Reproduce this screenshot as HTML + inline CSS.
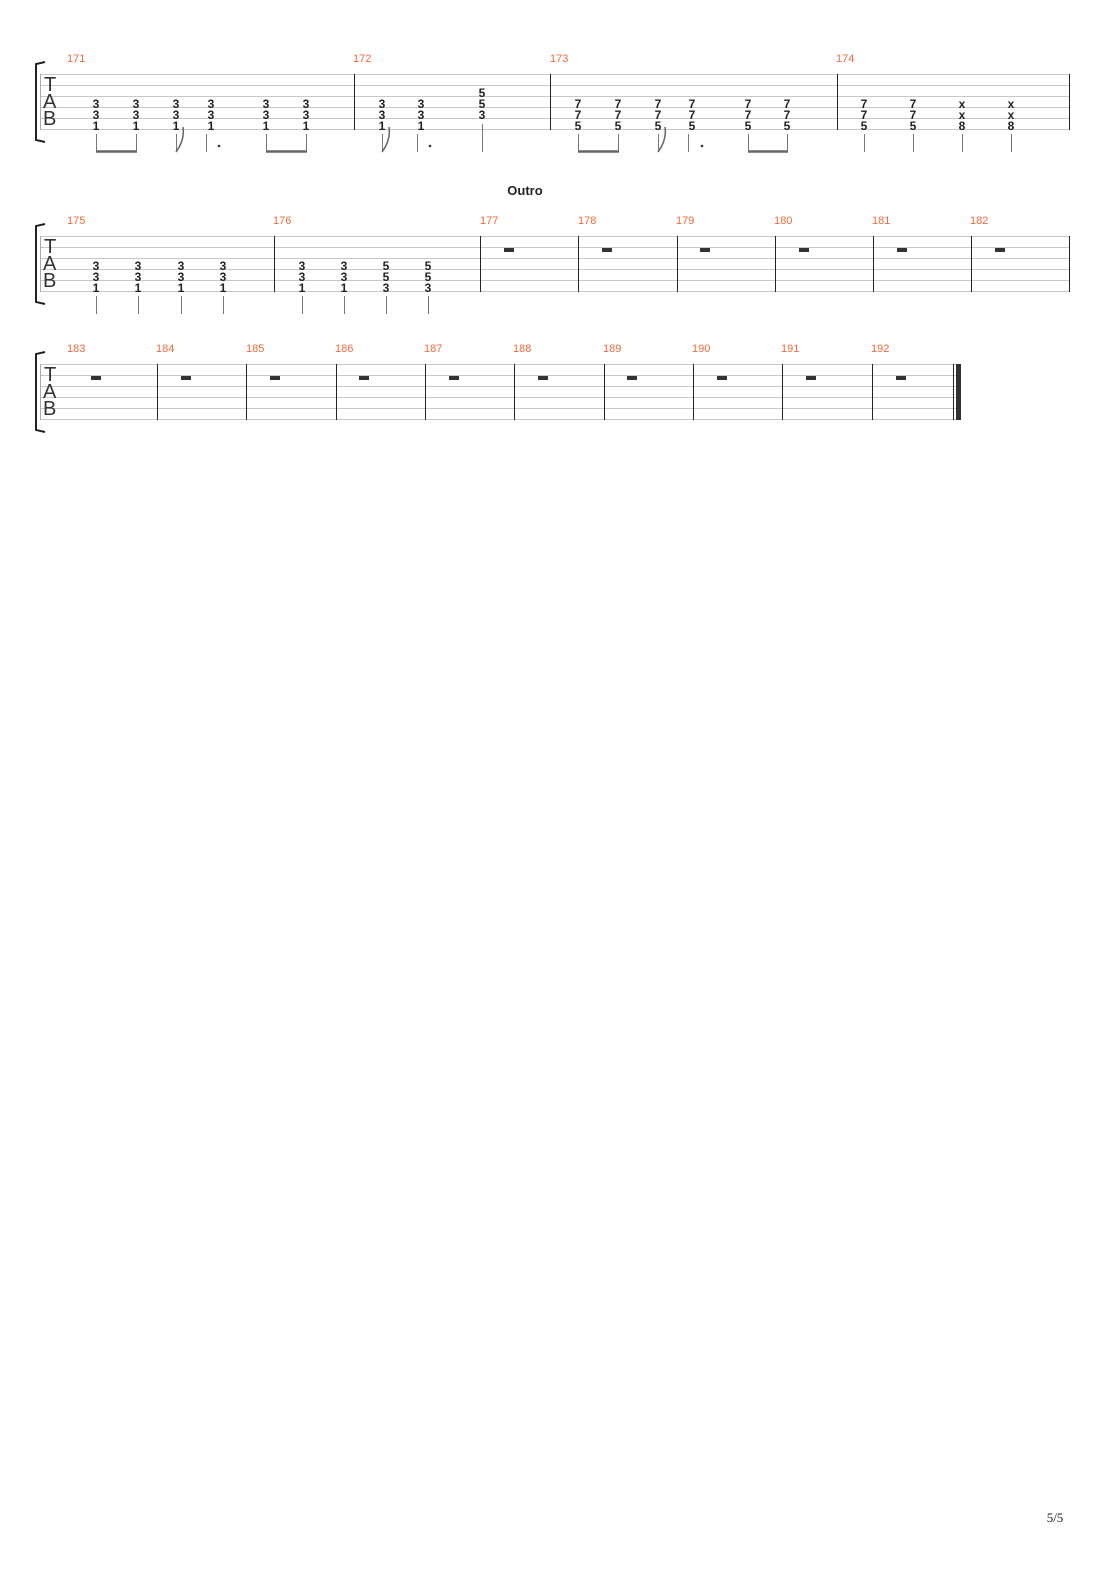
<!DOCTYPE html>
<html><head><meta charset="utf-8"><style>
html,body{margin:0;padding:0;background:#fff;}
svg{display:block;}
.n{font:bold 12px "Liberation Sans",sans-serif;fill:#222;text-anchor:middle;}
.m{font:11px "Liberation Sans",sans-serif;fill:#f26a3d;}
.t{font:20px "Liberation Sans",sans-serif;fill:#333;}
</style></head><body>
<svg width="1110" height="1570" viewBox="0 0 1110 1570" xmlns="http://www.w3.org/2000/svg">
<defs>
<g id="lines6">
<line x1="0" y1="0" x2="1" y2="0"/>
</g>
</defs>
<g id="s1"></g>
<script>
</script>
<!-- System 1 -->
<g stroke="#c8c8c8" stroke-width="1">
<line x1="40" y1="74.5" x2="1069" y2="74.5"/><line x1="40" y1="85.5" x2="1069" y2="85.5"/><line x1="40" y1="96.5" x2="1069" y2="96.5"/><line x1="40" y1="107.5" x2="1069" y2="107.5"/><line x1="40" y1="118.5" x2="1069" y2="118.5"/><line x1="40" y1="129.5" x2="1069" y2="129.5"/>
<line x1="40" y1="236.5" x2="1069" y2="236.5"/><line x1="40" y1="247.5" x2="1069" y2="247.5"/><line x1="40" y1="258.5" x2="1069" y2="258.5"/><line x1="40" y1="269.5" x2="1069" y2="269.5"/><line x1="40" y1="280.5" x2="1069" y2="280.5"/><line x1="40" y1="291.5" x2="1069" y2="291.5"/>
<line x1="40" y1="364.5" x2="958" y2="364.5"/><line x1="40" y1="375.5" x2="958" y2="375.5"/><line x1="40" y1="386.5" x2="958" y2="386.5"/><line x1="40" y1="397.5" x2="958" y2="397.5"/><line x1="40" y1="408.5" x2="958" y2="408.5"/><line x1="40" y1="419.5" x2="958" y2="419.5"/>
</g>
<g stroke="#222" stroke-width="1">
<line x1="40.5" y1="74" x2="40.5" y2="130" stroke="#aaa"/><line x1="354.5" y1="74" x2="354.5" y2="130"/><line x1="550.5" y1="74" x2="550.5" y2="130"/><line x1="837.5" y1="74" x2="837.5" y2="130"/><line x1="1069.5" y1="74" x2="1069.5" y2="130"/>
<line x1="40.5" y1="236" x2="40.5" y2="292" stroke="#aaa"/><line x1="274.5" y1="236" x2="274.5" y2="292"/><line x1="480.5" y1="236" x2="480.5" y2="292"/><line x1="578.5" y1="236" x2="578.5" y2="292"/><line x1="677.5" y1="236" x2="677.5" y2="292"/><line x1="775.5" y1="236" x2="775.5" y2="292"/><line x1="873.5" y1="236" x2="873.5" y2="292"/><line x1="971.5" y1="236" x2="971.5" y2="292"/><line x1="1069.5" y1="236" x2="1069.5" y2="292"/>
<line x1="40.5" y1="364" x2="40.5" y2="420" stroke="#aaa"/><line x1="157.5" y1="364" x2="157.5" y2="420"/><line x1="246.5" y1="364" x2="246.5" y2="420"/><line x1="336.5" y1="364" x2="336.5" y2="420"/><line x1="425.5" y1="364" x2="425.5" y2="420"/><line x1="514.5" y1="364" x2="514.5" y2="420"/><line x1="604.5" y1="364" x2="604.5" y2="420"/><line x1="693.5" y1="364" x2="693.5" y2="420"/><line x1="782.5" y1="364" x2="782.5" y2="420"/><line x1="872.5" y1="364" x2="872.5" y2="420"/><line x1="953.5" y1="364" x2="953.5" y2="420"/>
</g>
<rect x="956" y="364" width="5" height="56" fill="#333"/>
<!-- brackets -->
<g fill="none" stroke="#222" stroke-width="2">
<path d="M45,62 L36,64 L36,140 L45,142"/>
<path d="M45,224 L36,226 L36,302 L45,304"/>
<path d="M45,352 L36,354 L36,430 L45,432"/>
</g>
<!-- TAB letters -->
<g class="t">
<text x="44" y="91">T</text><text x="43" y="108">A</text><text x="43" y="125">B</text>
<text x="44" y="253">T</text><text x="43" y="270">A</text><text x="43" y="287">B</text>
<text x="44" y="381">T</text><text x="43" y="398">A</text><text x="43" y="415">B</text>
</g>
<!-- measure numbers -->
<g class="m">
<text x="67" y="62">171</text><text x="353" y="62">172</text><text x="550" y="62">173</text><text x="836" y="62">174</text>
<text x="67" y="224">175</text><text x="273" y="224">176</text><text x="480" y="224">177</text><text x="578" y="224">178</text><text x="676" y="224">179</text><text x="774" y="224">180</text><text x="872" y="224">181</text><text x="970" y="224">182</text>
<text x="67" y="352">183</text><text x="156" y="352">184</text><text x="246" y="352">185</text><text x="335" y="352">186</text><text x="424" y="352">187</text><text x="513" y="352">188</text><text x="603" y="352">189</text><text x="692" y="352">190</text><text x="781" y="352">191</text><text x="871" y="352">192</text>
</g>
<text x="525" y="195" style="font:bold 13px 'Liberation Sans',sans-serif;fill:#222;text-anchor:middle">Outro</text>
<!-- notes sys1 -->
<g class="n">
<text x="96" y="108">3</text><text x="96" y="119">3</text><text x="96" y="130">1</text>
<text x="136" y="108">3</text><text x="136" y="119">3</text><text x="136" y="130">1</text>
<text x="176" y="108">3</text><text x="176" y="119">3</text><text x="176" y="130">1</text>
<text x="211" y="108">3</text><text x="211" y="119">3</text><text x="211" y="130">1</text>
<text x="266" y="108">3</text><text x="266" y="119">3</text><text x="266" y="130">1</text>
<text x="306" y="108">3</text><text x="306" y="119">3</text><text x="306" y="130">1</text>
<text x="382" y="108">3</text><text x="382" y="119">3</text><text x="382" y="130">1</text>
<text x="421" y="108">3</text><text x="421" y="119">3</text><text x="421" y="130">1</text>
<text x="482" y="97">5</text><text x="482" y="108">5</text><text x="482" y="119">3</text>
<text x="578" y="108">7</text><text x="578" y="119">7</text><text x="578" y="130">5</text>
<text x="618" y="108">7</text><text x="618" y="119">7</text><text x="618" y="130">5</text>
<text x="658" y="108">7</text><text x="658" y="119">7</text><text x="658" y="130">5</text>
<text x="692" y="108">7</text><text x="692" y="119">7</text><text x="692" y="130">5</text>
<text x="748" y="108">7</text><text x="748" y="119">7</text><text x="748" y="130">5</text>
<text x="787" y="108">7</text><text x="787" y="119">7</text><text x="787" y="130">5</text>
<text x="864" y="108">7</text><text x="864" y="119">7</text><text x="864" y="130">5</text>
<text x="913" y="108">7</text><text x="913" y="119">7</text><text x="913" y="130">5</text>
<text x="962" y="108">x</text><text x="962" y="119">x</text><text x="962" y="130">8</text>
<text x="1011" y="108">x</text><text x="1011" y="119">x</text><text x="1011" y="130">8</text>
<!-- sys2 -->
<text x="96" y="270">3</text><text x="96" y="281">3</text><text x="96" y="292">1</text>
<text x="138" y="270">3</text><text x="138" y="281">3</text><text x="138" y="292">1</text>
<text x="181" y="270">3</text><text x="181" y="281">3</text><text x="181" y="292">1</text>
<text x="223" y="270">3</text><text x="223" y="281">3</text><text x="223" y="292">1</text>
<text x="302" y="270">3</text><text x="302" y="281">3</text><text x="302" y="292">1</text>
<text x="344" y="270">3</text><text x="344" y="281">3</text><text x="344" y="292">1</text>
<text x="386" y="270">5</text><text x="386" y="281">5</text><text x="386" y="292">3</text>
<text x="428" y="270">5</text><text x="428" y="281">5</text><text x="428" y="292">3</text>
</g>
<!-- stems -->
<g stroke="#777" stroke-width="1">
<line x1="96.5" y1="134" x2="96.5" y2="152"/><line x1="136.5" y1="134" x2="136.5" y2="152"/>
<line x1="176.5" y1="134" x2="176.5" y2="152"/><line x1="206.5" y1="134" x2="206.5" y2="152"/>
<line x1="266.5" y1="134" x2="266.5" y2="152"/><line x1="306.5" y1="134" x2="306.5" y2="152"/>
<line x1="382.5" y1="134" x2="382.5" y2="152"/><line x1="417.5" y1="134" x2="417.5" y2="152"/><line x1="482.5" y1="124" x2="482.5" y2="152"/>
<line x1="578.5" y1="134" x2="578.5" y2="152"/><line x1="618.5" y1="134" x2="618.5" y2="152"/>
<line x1="658.5" y1="134" x2="658.5" y2="152"/><line x1="688.5" y1="134" x2="688.5" y2="152"/>
<line x1="748.5" y1="134" x2="748.5" y2="152"/><line x1="787.5" y1="134" x2="787.5" y2="152"/>
<line x1="864.5" y1="134" x2="864.5" y2="152"/><line x1="913.5" y1="134" x2="913.5" y2="152"/><line x1="962.5" y1="134" x2="962.5" y2="152"/><line x1="1011.5" y1="134" x2="1011.5" y2="152"/>
<line x1="96.5" y1="296" x2="96.5" y2="314"/><line x1="138.5" y1="296" x2="138.5" y2="314"/><line x1="181.5" y1="296" x2="181.5" y2="314"/><line x1="223.5" y1="296" x2="223.5" y2="314"/>
<line x1="302.5" y1="296" x2="302.5" y2="314"/><line x1="344.5" y1="296" x2="344.5" y2="314"/><line x1="386.5" y1="296" x2="386.5" y2="314"/><line x1="428.5" y1="296" x2="428.5" y2="314"/>
</g>
<g stroke="#666" stroke-width="2.5">
<line x1="96" y1="151.5" x2="137" y2="151.5"/><line x1="266" y1="151.5" x2="307" y2="151.5"/>
<line x1="578" y1="151.5" x2="619" y2="151.5"/><line x1="748" y1="151.5" x2="788" y2="151.5"/>
</g>
<g fill="none" stroke="#666" stroke-width="1.5">
<path d="M176,152 Q185,140 183,127"/><path d="M382,152 Q391,140 389,127"/><path d="M658,152 Q667,140 665,127"/>
</g>
<g fill="#333"><circle cx="219" cy="146" r="1.3"/><circle cx="430" cy="146" r="1.3"/><circle cx="702" cy="146" r="1.3"/></g>
<!-- rests -->
<g fill="#333">
<rect x="504" y="248" width="10" height="4"/><rect x="602" y="248" width="10" height="4"/><rect x="700" y="248" width="10" height="4"/><rect x="799" y="248" width="10" height="4"/><rect x="897" y="248" width="10" height="4"/><rect x="995" y="248" width="10" height="4"/>
<rect x="91" y="376" width="10" height="4"/><rect x="181" y="376" width="10" height="4"/><rect x="270" y="376" width="10" height="4"/><rect x="359" y="376" width="10" height="4"/><rect x="449" y="376" width="10" height="4"/><rect x="538" y="376" width="10" height="4"/><rect x="627" y="376" width="10" height="4"/><rect x="717" y="376" width="10" height="4"/><rect x="806" y="376" width="10" height="4"/><rect x="896" y="376" width="10" height="4"/>
</g>
<text x="1055" y="1522" style="font:13px 'Liberation Serif',serif;fill:#222;text-anchor:middle">5/5</text>
</svg>
</body></html>
